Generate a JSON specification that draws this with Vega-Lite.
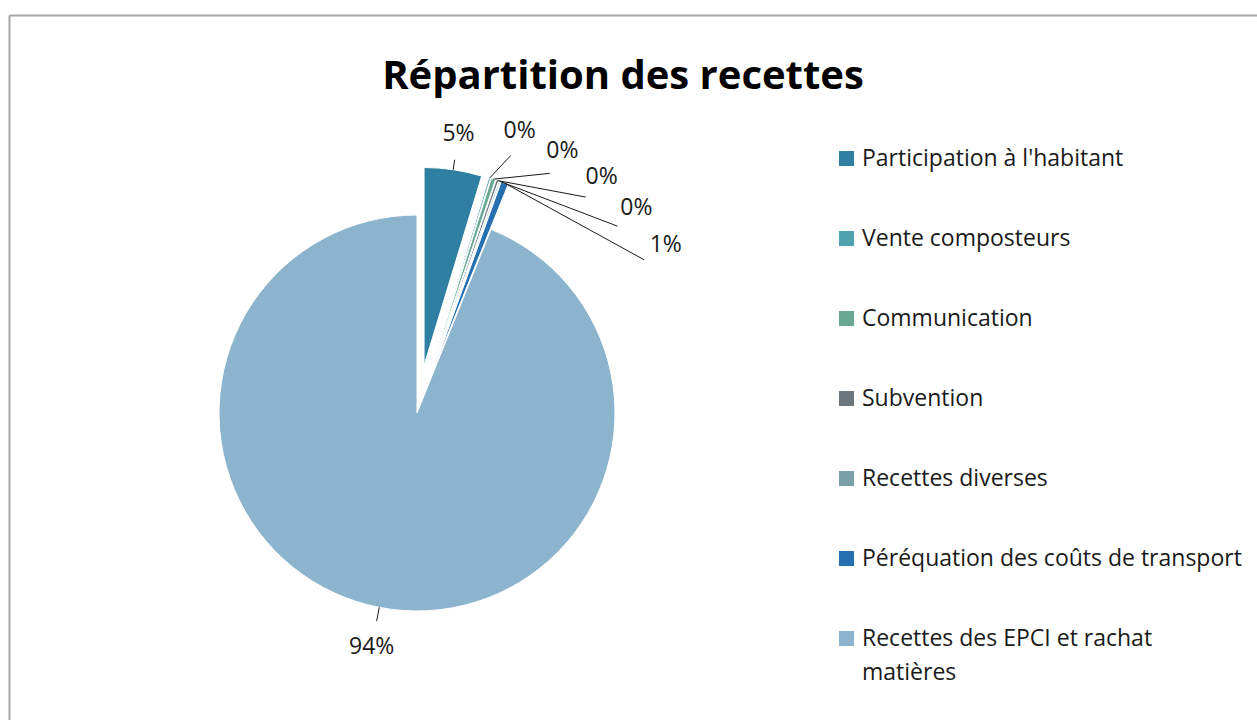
{
  "$schema": "https://vega.github.io/schema/vega-lite/v6.json",
  "width": 1248,
  "height": 705,
  "autosize": {"type": "none"},
  "padding": {"left": 9, "top": 15, "right": 0, "bottom": 0},
  "background": "white",
  "config": {"view": {"stroke": null}, "style": {"guide-label": {"lineHeight": 34}}},
  "title": {
    "text": "Répartition des recettes",
    "font": "Open Sans",
    "fontSize": 40,
    "fontWeight": "bold",
    "color": "#000000",
    "anchor": "middle",
    "baseline": "alphabetic",
    "offset": 0,
    "dx": -10,
    "dy": 114
  },
  "data": {
    "values": [
      {"ordre": 1, "poste": "Participation à l'habitant", "valeur": 4.7},
      {"ordre": 2, "poste": "Vente composteurs", "valeur": 0.15},
      {"ordre": 3, "poste": "Communication", "valeur": 0.35},
      {"ordre": 4, "poste": "Subvention", "valeur": 0.2},
      {"ordre": 5, "poste": "Recettes diverses", "valeur": 0.1},
      {"ordre": 6, "poste": "Péréquation des coûts de transport", "valeur": 0.6},
      {"ordre": 7, "poste": "Recettes des EPCI et rachat matières", "valeur": 93.9}
    ]
  },
  "transform": [
    {"joinaggregate": [{"op": "sum", "field": "valeur", "as": "tot"}]},
    {"window": [{"op": "sum", "field": "valeur", "as": "fin"}], "sort": [{"field": "ordre"}], "frame": [null, 0]},
    {"calculate": "(datum.fin - datum.valeur) / datum.tot", "as": "f0"},
    {"calculate": "datum.fin / datum.tot", "as": "f1"},
    {"calculate": "datum.valeur / datum.tot", "as": "part"},
    {"calculate": "PI * (datum.f0 + datum.f1)", "as": "am"},
    {"calculate": "datum.ordre < 7 ? 48 : 0", "as": "ex"},
    {"calculate": "datum.ex * sin(datum.am)", "as": "cx"},
    {"calculate": "datum.ex * cos(datum.am)", "as": "cy"},
    {"calculate": "datum.cx + 198 * sin(datum.am)", "as": "bx"},
    {"calculate": "datum.cy + 198 * cos(datum.am)", "as": "by"},
    {"calculate": "datum.ordre >= 2 && datum.ordre <= 6 ? PI / 180 * (20 + 9 * (datum.ordre - 2)) : datum.am", "as": "la"},
    {"calculate": "datum.ordre >= 2 && datum.ordre <= 6 ? 300 : (datum.ordre == 1 ? 282 : 238)", "as": "lr"},
    {"calculate": "datum.lr * sin(datum.la)", "as": "tx"},
    {"calculate": "datum.lr * cos(datum.la)", "as": "ty"},
    {"calculate": "(datum.lr - 26) * sin(datum.la)", "as": "qx"},
    {"calculate": "(datum.lr - 26) * cos(datum.la)", "as": "qy"}
  ],
  "layer": [
    {
      "mark": {"type": "arc", "outerRadius": 198, "stroke": "white", "strokeWidth": 1},
      "encoding": {
        "x": {"field": "cx", "type": "quantitative", "scale": {"domain": [-408, 840], "nice": false, "zero": false},
              "axis": {"orient": "top", "labels": false, "ticks": false, "grid": false, "title": null, "domainColor": "#a6a6a6", "domainWidth": 2}},
        "y": {"field": "cy", "type": "quantitative", "scale": {"domain": [-307, 398], "nice": false, "zero": false},
              "axis": {"orient": "left", "labels": false, "ticks": false, "grid": false, "title": null, "domainColor": "#a6a6a6", "domainWidth": 2}},
        "theta": {"field": "f0", "type": "quantitative", "scale": {"domain": [0, 1]}},
        "theta2": {"field": "f1"},
        "color": {
          "field": "poste",
          "type": "nominal",
          "scale": {
            "domain": ["Participation à l'habitant", "Vente composteurs", "Communication", "Subvention", "Recettes diverses", "Péréquation des coûts de transport", "Recettes des EPCI et rachat matières"],
            "range": ["#2e7fa1", "#4ea3ad", "#69a994", "#6b777d", "#7a9fa6", "#2570b0", "#8cb4cd"]
          },
          "legend": {
            "orient": "none",
            "legendX": 826,
            "legendY": 132,
            "title": null,
            "padding": 0,
            "symbolType": "square",
            "symbolSize": 225,
            "symbolStrokeWidth": 0,
            "labelFont": "Open Sans",
            "labelFontSize": 23,
            "labelColor": "#1a1a1a",
            "labelOffset": 4,
            "labelLimit": 500,
            "rowPadding": 56,
            "labelExpr": "datum.label == 'Recettes des EPCI et rachat matières' ? ['Recettes des EPCI et rachat', 'matières'] : datum.label",
            "labelBaseline": "middle",
            "encode": {"labels": {"update": {"lineHeight": {"value": 34}}}}
          }
        }
      }
    },
    {
      "mark": {"type": "rule", "color": "#1a1a1a", "strokeWidth": 1},
      "encoding": {
        "x": {"field": "bx", "type": "quantitative", "scale": {"domain": [-408, 840], "nice": false, "zero": false},
              "axis": {"orient": "top", "labels": false, "ticks": false, "grid": false, "title": null, "domainColor": "#a6a6a6", "domainWidth": 2}},
        "y": {"field": "by", "type": "quantitative", "scale": {"domain": [-307, 398], "nice": false, "zero": false},
              "axis": {"orient": "left", "labels": false, "ticks": false, "grid": false, "title": null, "domainColor": "#a6a6a6", "domainWidth": 2}},
        "x2": {"field": "qx"},
        "y2": {"field": "qy"}
      }
    },
    {
      "mark": {"type": "text", "font": "Open Sans", "fontSize": 23, "color": "#1a1a1a", "align": "center", "baseline": "middle"},
      "encoding": {
        "x": {"field": "tx", "type": "quantitative", "scale": {"domain": [-408, 840], "nice": false, "zero": false},
              "axis": {"orient": "top", "labels": false, "ticks": false, "grid": false, "title": null, "domainColor": "#a6a6a6", "domainWidth": 2}},
        "y": {"field": "ty", "type": "quantitative", "scale": {"domain": [-307, 398], "nice": false, "zero": false},
              "axis": {"orient": "left", "labels": false, "ticks": false, "grid": false, "title": null, "domainColor": "#a6a6a6", "domainWidth": 2}},
        "text": {"field": "part", "type": "quantitative", "format": ".0%"}
      }
    }
  ]
}
